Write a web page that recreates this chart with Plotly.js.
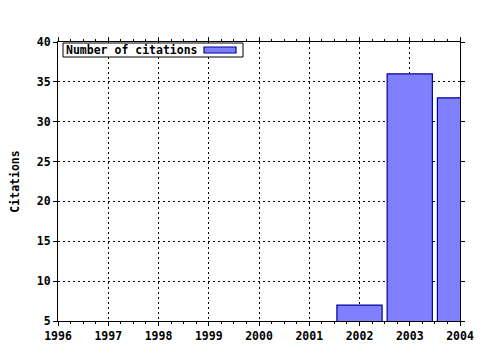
<!DOCTYPE html>
<html>
<head>
<meta charset="utf-8">
<script src="https://cdn.plot.ly/plotly-3.0.1.min.js"></script>
<style>html,body{margin:0;padding:0;background:#fff;}#chart{width:480px;height:350px;}</style>
</head>
<body>
<div id="chart"></div>
<script>
var years = [2002, 2003, 2004];
var citations = [7, 36, 33];
var seriesName = 'Number of citations';
var xTicks = [1996, 1997, 1998, 1999, 2000, 2001, 2002, 2003, 2004];
var yTicks = [5, 10, 15, 20, 25, 30, 35, 40];

var FONT = {family: 'DejaVu Sans Mono, monospace', size: 11.5, color: '#000', weight: 'bold'};
var L = 58, R = 460, T = 42, B = 321;
function px(x){ return (x - L) / (R - L); }
function py(y){ return (B - y) / (B - T); }

var trace = {
  type: 'bar', x: years, y: citations, width: 0.9, name: seriesName,
  marker: {color: '#8080ff', line: {color: '#0000a0', width: 1.2}},
  showlegend: false, hoverinfo: 'none'
};

var axisCommon = {
  showline: true, linecolor: '#000', linewidth: 1, mirror: 'ticks',
  ticks: 'outside', ticklen: 4, tickcolor: '#000', tickwidth: 1,
  showgrid: true, gridcolor: '#000', gridwidth: 1, griddash: '2px,3px',
  zeroline: false, tickfont: FONT, fixedrange: true
};

var layout = {
  width: 480, height: 350,
  margin: {l: L, r: 480 - R, t: T, b: 350 - B, pad: 0},
  paper_bgcolor: '#fff', plot_bgcolor: '#fff',
  font: FONT,
  bargap: 0,
  xaxis: Object.assign({}, axisCommon, {
    range: [1996, 2004], tickmode: 'array', tickvals: xTicks, ticktext: xTicks.map(String),
    minor: {dtick: 0.25, tick0: 1996, ticks: 'outside', ticklen: 2, tickcolor: '#000', showgrid: false}
  }),
  yaxis: Object.assign({}, axisCommon, {
    range: [5, 40], tickmode: 'array', tickvals: yTicks, ticktext: yTicks.map(String),
    title: {text: 'Citations', font: FONT, standoff: 14}
  }),
  shapes: [
    {type: 'rect', xref: 'paper', yref: 'paper', layer: 'above',
     x0: px(63), x1: px(243), y0: py(57), y1: py(43),
     fillcolor: '#fff', line: {color: '#000', width: 1}},
    {type: 'rect', xref: 'paper', yref: 'paper', layer: 'above',
     x0: px(204), x1: px(236), y0: py(53), y1: py(47),
     fillcolor: '#8080ff', line: {color: '#0000a0', width: 1.2}}
  ],
  annotations: [
    {xref: 'paper', yref: 'paper', x: px(64), y: py(50), xanchor: 'left', yanchor: 'middle',
     text: seriesName, showarrow: false, font: FONT}
  ]
};

Plotly.newPlot('chart', [trace], layout, {staticPlot: true, displayModeBar: false});
</script>
</body>
</html>
